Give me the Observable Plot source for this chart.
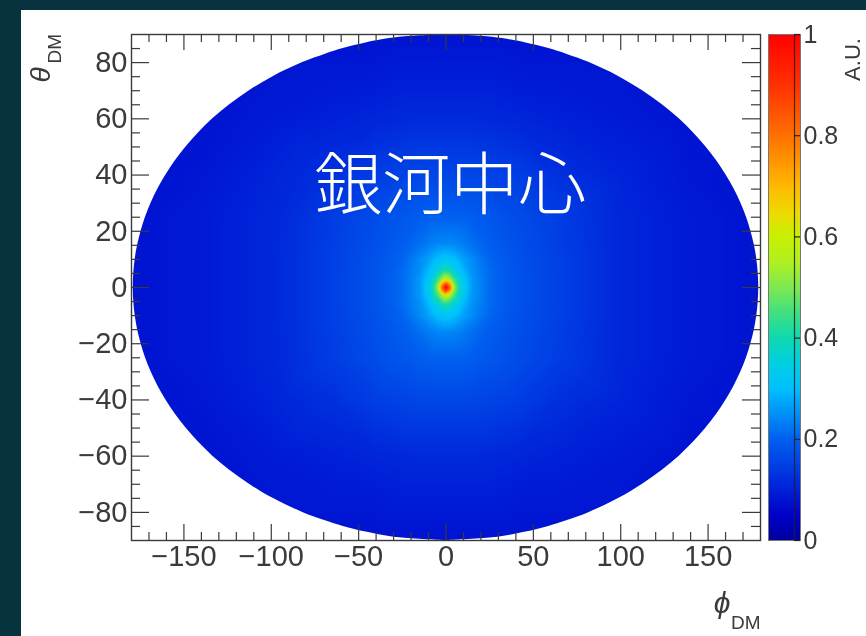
<!doctype html>
<html><head><meta charset="utf-8">
<script src="https://cdn.jsdelivr.net/npm/d3@7"></script>
<script src="https://cdn.jsdelivr.net/npm/@observablehq/plot@0.6"></script>
<style>
html,body{margin:0;padding:0;background:#07333f;width:866px;height:636px;overflow:hidden}
#panel{position:absolute;left:21px;top:10px;right:0;bottom:0;background:#fff}
#main,#bar{position:absolute;left:0;top:0}
svg{display:block;background:transparent!important;filter:blur(.6px);overflow:hidden}
</style></head><body>
<div id="panel"></div><div id="main"></div><div id="bar"></div>
<script>
// Intensity (A.U.) in one quadrant of the sky map
const phiNodes = [0, 2, 5, 9, 15, 25, 40, 65, 100, 140, 180];
const thetaNodes = [0, 1, 3, 6, 10, 16, 25, 40, 60, 75, 90];
const intensity = [
  [1.00, .85, .50, .34, .26, .21, .18, .15, .11, .09, .08],
  [.90, .78, .49, .34, .26, .21, .18, .15, .11, .09, .08],
  [.58, .54, .44, .325, .26, .21, .18, .15, .11, .09, .08],
  [.41, .40, .34, .30, .25, .21, .18, .15, .11, .09, .08],
  [.31, .31, .30, .275, .245, .205, .178, .15, .11, .09, .08],
  [.24, .24, .237, .23, .215, .195, .175, .147, .11, .09, .08],
  [.20, .20, .20, .20, .195, .185, .17, .145, .11, .09, .08],
  [.16, .16, .16, .16, .16, .155, .147, .125, .105, .085, .08],
  [.115, .115, .115, .115, .115, .113, .108, .10, .09, .08, .08],
  [.095, .095, .095, .095, .095, .095, .09, .088, .085, .08, .08],
  [.08, .08, .08, .08, .08, .08, .08, .08, .08, .08, .08]
];
// Edge of the sky map: half width in phi at each theta
const edgeTheta = [0, 5, 10, 15, 20, 25, 30, 35, 40, 45, 50, 55, 60, 65, 70, 75, 80, 83, 85, 87, 88, 89, 90];
const edgeHalfWidth = [179, 178.7, 177.9, 176.5, 174.5, 172, 168.8, 164.9, 160.3, 155, 148.8, 141.7, 133.5, 123.8, 112.5, 99, 82, 69, 58.8, 45.8, 37.5, 26.6, 0];
const colorStops = [0, .05, .1, .15, .2, .25, .3, .35, .4, .45, .5, .55, .6, .65, .7, .8, .9, 1];
const colorValues = ["#0000a0","#0000c8","#0020d8","#0040e4","#0060f0","#0090f8","#00c0ff","#00d0e0","#10d8b0","#40e080","#80e850","#b0f020","#c8f000","#f0d800","#ffb800","#ff7000","#ff3000","#ff0000"];
const xMajor = [-150, -100, -50, 0, 50, 100, 150];
const yMajor = [-80, -60, -40, -20, 0, 20, 40, 60, 80];
const xMinor = d3.range(-170, 180, 10).filter(v => v % 50 !== 0);
const yMinor = d3.range(-85, 90, 5).filter(v => v % 20 !== 0);
const barTicks = [0, .2, .4, .6, .8, 1];
const caption = "銀河中心";

const cells = [];
thetaNodes.forEach((t, i) => phiNodes.forEach((p, j) => {
  for (const sp of p ? [-1, 1] : [1]) for (const st of t ? [-1, 1] : [1])
    cells.push({phi: sp * p, theta: st * t, v: intensity[i][j]});
}));
const edge = edgeTheta.flatMap((t, i) => (t ? [-t, t] : [0]).map(theta => ({theta, hw: edgeHalfWidth[i]})))
  .sort((a, b) => a.theta - b.theta);
const color = {type: "linear", domain: colorStops, range: colorValues, interpolate: "rgb"};
const font = "'Liberation Sans', Arial, sans-serif";
const ink = "#3a3a3a";
const W = 866, H = 636, L = 131, R = 106, T = 34, B = 96;
const fw = W - L - R, fh = H - T - B;

const main = Plot.plot({
  width: W, height: H, marginLeft: L, marginRight: R, marginTop: T, marginBottom: B,
  style: {fontFamily: font, background: "transparent"},
  x: {domain: [-180, 180], label: null},
  y: {domain: [-90, 90], label: null},
  color,
  marks: [
    Plot.raster(cells, {x: "phi", y: "theta", fill: "v", interpolate: "barycentric", pixelSize: 1}),
    Plot.areaX(edge, {y: "theta", x1: () => -181, x2: d => -d.hw, fill: "#fff", curve: "catmull-rom"}),
    Plot.areaX(edge, {y: "theta", x1: () => 181, x2: d => d.hw, fill: "#fff", curve: "catmull-rom"}),
    Plot.tickX(xMajor, {x: d => d, insetTop: fh - 16, stroke: ink, strokeWidth: 1.2}),
    Plot.tickX(xMajor, {x: d => d, insetBottom: fh - 16, stroke: ink, strokeWidth: 1.2}),
    Plot.tickX(xMinor, {x: d => d, insetTop: fh - 8, stroke: ink, strokeWidth: 1.2}),
    Plot.tickX(xMinor, {x: d => d, insetBottom: fh - 8, stroke: ink, strokeWidth: 1.2}),
    Plot.tickY(yMajor, {y: d => d, insetRight: fw - 18, stroke: ink, strokeWidth: 1.2}),
    Plot.tickY(yMajor, {y: d => d, insetLeft: fw - 18, stroke: ink, strokeWidth: 1.2}),
    Plot.tickY(yMinor, {y: d => d, insetRight: fw - 9, stroke: ink, strokeWidth: 1.2}),
    Plot.tickY(yMinor, {y: d => d, insetLeft: fw - 9, stroke: ink, strokeWidth: 1.2}),
    Plot.frame({stroke: ink, strokeWidth: 1.4}),
    Plot.axisX({anchor: "bottom", ticks: xMajor, tickSize: 0, tickPadding: 5, fontSize: 29, fill: ink, label: null}),
    Plot.axisY({anchor: "left", ticks: yMajor, tickSize: 0, tickPadding: 4, fontSize: 29, fill: ink, label: null}),
    Plot.text([caption], {x: () => 2.5, y: () => 35.5, text: d => d, fill: "#fff", fontSize: 68, fontWeight: 300, fontFamily: "'Noto Sans CJK JP'"}),
    Plot.text(["θ"], {frameAnchor: "top-left", dx: -101, dy: 48, rotate: -90, text: d => d, fontSize: 28, fontStyle: "italic", fill: ink, textAnchor: "start"}),
    Plot.text(["DM"], {frameAnchor: "top-left", dx: -84, dy: 29, rotate: -90, text: d => d, fontSize: 19, fill: ink, textAnchor: "start"}),
    Plot.text(["ϕ"], {frameAnchor: "bottom-right", dx: -30, dy: 72, text: d => d, fontSize: 30, fontStyle: "italic", fill: ink, textAnchor: "end"}),
    Plot.text(["DM"], {frameAnchor: "bottom-right", dx: 0, dy: 88, text: d => d, fontSize: 19, fill: ink, textAnchor: "end"})
  ]
});
document.getElementById("main").append(main);

const steps = d3.range(0, 1, .005);
const bar = Plot.plot({
  width: W, height: H, marginLeft: 768, marginRight: 66, marginTop: T, marginBottom: B,
  style: {fontFamily: font, background: "transparent"},
  x: {domain: [0, 1], axis: null},
  y: {domain: [0, 1], axis: null},
  color,
  marks: [
    Plot.rect(steps, {x1: () => 0, x2: () => 1, y1: d => d, y2: d => d + .0055, fill: d => d + .0025, shapeRendering: "crispEdges"}),
    Plot.frame({stroke: "#777", strokeWidth: 1}),
    Plot.ruleX([.8125], {stroke: "#222", strokeOpacity: .85, strokeWidth: 1.2}),
    Plot.tickY(barTicks, {y: d => d, insetLeft: 26, stroke: "#222", strokeWidth: 1.2}),
    Plot.text(barTicks, {y: d => d, x: () => 1, dx: 3, text: d => String(d), textAnchor: "start", fontSize: 25, fill: ink}),
    Plot.text(["A.U."], {frameAnchor: "top-right", dx: 44, dy: 25, rotate: -90, text: d => d, fontSize: 22, fill: ink, textAnchor: "middle"})
  ]
});
document.getElementById("bar").append(bar);
</script></body></html>
